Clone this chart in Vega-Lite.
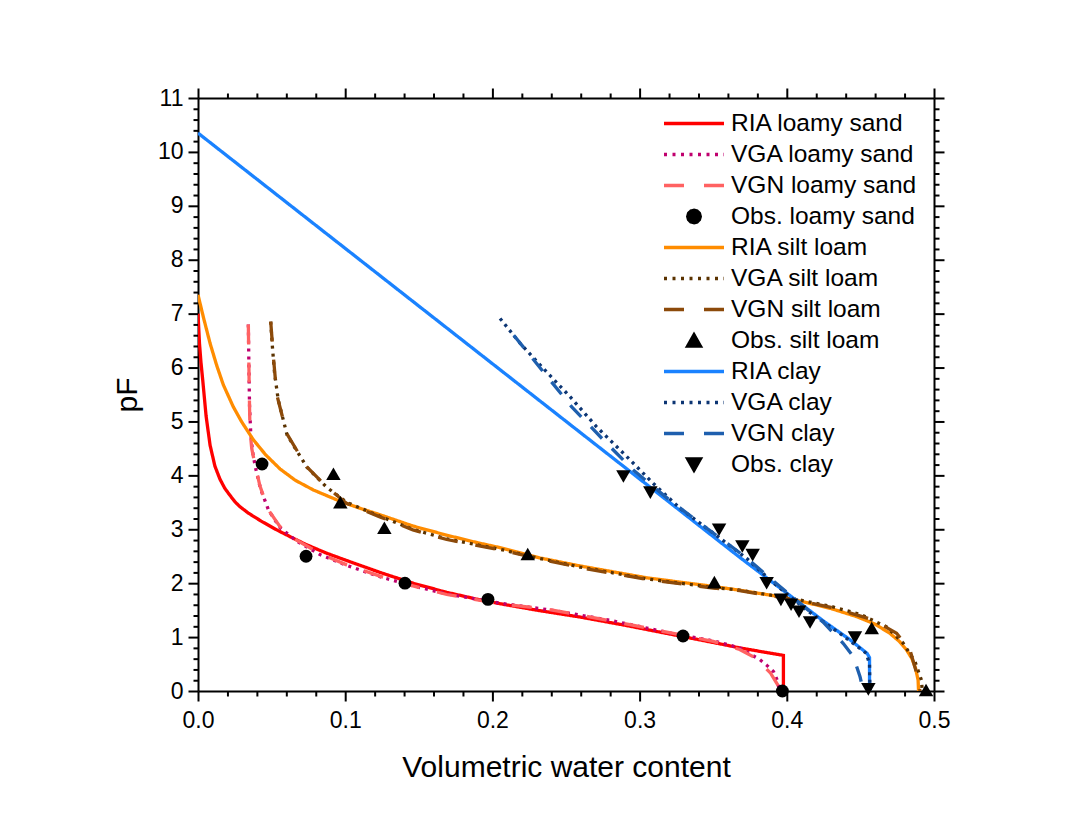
{
  "$schema": "https://vega.github.io/schema/vega-lite/v6.json",
  "width": 736,
  "height": 593,
  "autosize": "none",
  "padding": {"left": 198, "top": 98, "right": 134, "bottom": 129},
  "background": "white",
  "config": {
    "view": {"stroke": null},
    "font": "Liberation Sans",
    "axis": {
      "domainColor": "black", "domainWidth": 2, "tickColor": "black", "tickWidth": 2,
      "labelFont": "Liberation Sans", "labelFontSize": 23, "labelColor": "black",
      "titleFont": "Liberation Sans", "titleFontSize": 30, "titleFontWeight": "normal", "titleColor": "black",
      "grid": false, "labelOverlap": false, "labelFlush": false, "tickRound": false
    },
    "legend": {"labelFont": "Liberation Sans", "labelFontSize": 24.5, "labelColor": "black"}
  },
  "datasets": {
    "curves": [
      {"series": "RIA loamy sand", "wc": 0, "pF": 7.0},
      {"series": "RIA loamy sand", "wc": 0.001, "pF": 6.45},
      {"series": "RIA loamy sand", "wc": 0.002, "pF": 6.1},
      {"series": "RIA loamy sand", "wc": 0.0032, "pF": 5.77},
      {"series": "RIA loamy sand", "wc": 0.0055, "pF": 5.1},
      {"series": "RIA loamy sand", "wc": 0.0082, "pF": 4.56},
      {"series": "RIA loamy sand", "wc": 0.0115, "pF": 4.17},
      {"series": "RIA loamy sand", "wc": 0.0149, "pF": 3.93},
      {"series": "RIA loamy sand", "wc": 0.0182, "pF": 3.76},
      {"series": "RIA loamy sand", "wc": 0.0217, "pF": 3.63},
      {"series": "RIA loamy sand", "wc": 0.0248, "pF": 3.52},
      {"series": "RIA loamy sand", "wc": 0.028, "pF": 3.43},
      {"series": "RIA loamy sand", "wc": 0.0342, "pF": 3.3},
      {"series": "RIA loamy sand", "wc": 0.043, "pF": 3.15},
      {"series": "RIA loamy sand", "wc": 0.0534, "pF": 2.99},
      {"series": "RIA loamy sand", "wc": 0.0635, "pF": 2.85},
      {"series": "RIA loamy sand", "wc": 0.0732, "pF": 2.72},
      {"series": "RIA loamy sand", "wc": 0.087, "pF": 2.56},
      {"series": "RIA loamy sand", "wc": 0.101, "pF": 2.42},
      {"series": "RIA loamy sand", "wc": 0.1236, "pF": 2.2},
      {"series": "RIA loamy sand", "wc": 0.146, "pF": 2.0},
      {"series": "RIA loamy sand", "wc": 0.169, "pF": 1.83},
      {"series": "RIA loamy sand", "wc": 0.19, "pF": 1.7},
      {"series": "RIA loamy sand", "wc": 0.205, "pF": 1.62},
      {"series": "RIA loamy sand", "wc": 0.23, "pF": 1.5},
      {"series": "RIA loamy sand", "wc": 0.26, "pF": 1.37},
      {"series": "RIA loamy sand", "wc": 0.29, "pF": 1.22},
      {"series": "RIA loamy sand", "wc": 0.3274, "pF": 1.02},
      {"series": "RIA loamy sand", "wc": 0.35, "pF": 0.9},
      {"series": "RIA loamy sand", "wc": 0.368, "pF": 0.8},
      {"series": "RIA loamy sand", "wc": 0.3977, "pF": 0.66},
      {"series": "RIA loamy sand", "wc": 0.3977, "pF": 0},

      {"series": "VGA loamy sand", "wc": 0.0342, "pF": 6.8},
      {"series": "VGA loamy sand", "wc": 0.0346, "pF": 6.0},
      {"series": "VGA loamy sand", "wc": 0.035, "pF": 5.3},
      {"series": "VGA loamy sand", "wc": 0.0358, "pF": 4.8},
      {"series": "VGA loamy sand", "wc": 0.037, "pF": 4.45},
      {"series": "VGA loamy sand", "wc": 0.039, "pF": 4.15},
      {"series": "VGA loamy sand", "wc": 0.0425, "pF": 3.75},
      {"series": "VGA loamy sand", "wc": 0.048, "pF": 3.35},
      {"series": "VGA loamy sand", "wc": 0.0557, "pF": 3.03},
      {"series": "VGA loamy sand", "wc": 0.067, "pF": 2.78},
      {"series": "VGA loamy sand", "wc": 0.0829, "pF": 2.53},
      {"series": "VGA loamy sand", "wc": 0.101, "pF": 2.33},
      {"series": "VGA loamy sand", "wc": 0.1236, "pF": 2.12},
      {"series": "VGA loamy sand", "wc": 0.146, "pF": 1.95},
      {"series": "VGA loamy sand", "wc": 0.169, "pF": 1.8},
      {"series": "VGA loamy sand", "wc": 0.205, "pF": 1.63},
      {"series": "VGA loamy sand", "wc": 0.24, "pF": 1.5},
      {"series": "VGA loamy sand", "wc": 0.282, "pF": 1.3},
      {"series": "VGA loamy sand", "wc": 0.32, "pF": 1.08},
      {"series": "VGA loamy sand", "wc": 0.35, "pF": 0.93},
      {"series": "VGA loamy sand", "wc": 0.368, "pF": 0.8},
      {"series": "VGA loamy sand", "wc": 0.3818, "pF": 0.58},
      {"series": "VGA loamy sand", "wc": 0.3863, "pF": 0.48},
      {"series": "VGA loamy sand", "wc": 0.391, "pF": 0.36},
      {"series": "VGA loamy sand", "wc": 0.3935, "pF": 0.2},
      {"series": "VGA loamy sand", "wc": 0.395, "pF": 0},

      {"series": "VGN loamy sand", "wc": 0.0342, "pF": 6.8},
      {"series": "VGN loamy sand", "wc": 0.0345, "pF": 6.2},
      {"series": "VGN loamy sand", "wc": 0.0348, "pF": 5.6},
      {"series": "VGN loamy sand", "wc": 0.0353, "pF": 4.85},
      {"series": "VGN loamy sand", "wc": 0.0365, "pF": 4.5},
      {"series": "VGN loamy sand", "wc": 0.0387, "pF": 4.2},
      {"series": "VGN loamy sand", "wc": 0.0421, "pF": 3.8},
      {"series": "VGN loamy sand", "wc": 0.0478, "pF": 3.36},
      {"series": "VGN loamy sand", "wc": 0.0557, "pF": 3.05},
      {"series": "VGN loamy sand", "wc": 0.067, "pF": 2.8},
      {"series": "VGN loamy sand", "wc": 0.0829, "pF": 2.55},
      {"series": "VGN loamy sand", "wc": 0.101, "pF": 2.34},
      {"series": "VGN loamy sand", "wc": 0.1236, "pF": 2.13},
      {"series": "VGN loamy sand", "wc": 0.146, "pF": 1.95},
      {"series": "VGN loamy sand", "wc": 0.169, "pF": 1.79},
      {"series": "VGN loamy sand", "wc": 0.205, "pF": 1.62},
      {"series": "VGN loamy sand", "wc": 0.2369, "pF": 1.52},
      {"series": "VGN loamy sand", "wc": 0.265, "pF": 1.38},
      {"series": "VGN loamy sand", "wc": 0.2935, "pF": 1.23},
      {"series": "VGN loamy sand", "wc": 0.33, "pF": 1.03},
      {"series": "VGN loamy sand", "wc": 0.35, "pF": 0.92},
      {"series": "VGN loamy sand", "wc": 0.368, "pF": 0.77},
      {"series": "VGN loamy sand", "wc": 0.377, "pF": 0.64},
      {"series": "VGN loamy sand", "wc": 0.384, "pF": 0.47},
      {"series": "VGN loamy sand", "wc": 0.389, "pF": 0.33},
      {"series": "VGN loamy sand", "wc": 0.393, "pF": 0.15},
      {"series": "VGN loamy sand", "wc": 0.3965, "pF": 0},

      {"series": "RIA silt loam", "wc": 0, "pF": 7.35},
      {"series": "RIA silt loam", "wc": 0.0036, "pF": 6.94},
      {"series": "RIA silt loam", "wc": 0.0082, "pF": 6.45},
      {"series": "RIA silt loam", "wc": 0.0127, "pF": 6.04},
      {"series": "RIA silt loam", "wc": 0.0172, "pF": 5.68},
      {"series": "RIA silt loam", "wc": 0.024, "pF": 5.27},
      {"series": "RIA silt loam", "wc": 0.0295, "pF": 5.0},
      {"series": "RIA silt loam", "wc": 0.0376, "pF": 4.66},
      {"series": "RIA silt loam", "wc": 0.046, "pF": 4.38},
      {"series": "RIA silt loam", "wc": 0.0557, "pF": 4.12},
      {"series": "RIA silt loam", "wc": 0.066, "pF": 3.91},
      {"series": "RIA silt loam", "wc": 0.0783, "pF": 3.73},
      {"series": "RIA silt loam", "wc": 0.0965, "pF": 3.52},
      {"series": "RIA silt loam", "wc": 0.11, "pF": 3.39},
      {"series": "RIA silt loam", "wc": 0.1236, "pF": 3.27},
      {"series": "RIA silt loam", "wc": 0.146, "pF": 3.06},
      {"series": "RIA silt loam", "wc": 0.169, "pF": 2.89},
      {"series": "RIA silt loam", "wc": 0.19, "pF": 2.75},
      {"series": "RIA silt loam", "wc": 0.205, "pF": 2.66},
      {"series": "RIA silt loam", "wc": 0.232, "pF": 2.47},
      {"series": "RIA silt loam", "wc": 0.2595, "pF": 2.32},
      {"series": "RIA silt loam", "wc": 0.3048, "pF": 2.1},
      {"series": "RIA silt loam", "wc": 0.35, "pF": 1.94},
      {"series": "RIA silt loam", "wc": 0.368, "pF": 1.87},
      {"series": "RIA silt loam", "wc": 0.395, "pF": 1.75},
      {"series": "RIA silt loam", "wc": 0.4135, "pF": 1.64},
      {"series": "RIA silt loam", "wc": 0.43, "pF": 1.53},
      {"series": "RIA silt loam", "wc": 0.4475, "pF": 1.38},
      {"series": "RIA silt loam", "wc": 0.46, "pF": 1.24},
      {"series": "RIA silt loam", "wc": 0.47, "pF": 1.07},
      {"series": "RIA silt loam", "wc": 0.4765, "pF": 0.92},
      {"series": "RIA silt loam", "wc": 0.4814, "pF": 0.76},
      {"series": "RIA silt loam", "wc": 0.485, "pF": 0.6},
      {"series": "RIA silt loam", "wc": 0.4875, "pF": 0.42},
      {"series": "RIA silt loam", "wc": 0.4892, "pF": 0.2},
      {"series": "RIA silt loam", "wc": 0.4895, "pF": 0},

      {"series": "VGA silt loam", "wc": 0.0494, "pF": 6.85},
      {"series": "VGA silt loam", "wc": 0.0505, "pF": 6.4},
      {"series": "VGA silt loam", "wc": 0.052, "pF": 5.9},
      {"series": "VGA silt loam", "wc": 0.0545, "pF": 5.4},
      {"series": "VGA silt loam", "wc": 0.0605, "pF": 4.75},
      {"series": "VGA silt loam", "wc": 0.074, "pF": 4.15},
      {"series": "VGA silt loam", "wc": 0.0874, "pF": 3.78},
      {"series": "VGA silt loam", "wc": 0.101, "pF": 3.5},
      {"series": "VGA silt loam", "wc": 0.1236, "pF": 3.24},
      {"series": "VGA silt loam", "wc": 0.146, "pF": 3.0},
      {"series": "VGA silt loam", "wc": 0.169, "pF": 2.82},
      {"series": "VGA silt loam", "wc": 0.205, "pF": 2.63},
      {"series": "VGA silt loam", "wc": 0.232, "pF": 2.46},
      {"series": "VGA silt loam", "wc": 0.2595, "pF": 2.3},
      {"series": "VGA silt loam", "wc": 0.3048, "pF": 2.08},
      {"series": "VGA silt loam", "wc": 0.35, "pF": 1.92},
      {"series": "VGA silt loam", "wc": 0.368, "pF": 1.87},
      {"series": "VGA silt loam", "wc": 0.4067, "pF": 1.7},
      {"series": "VGA silt loam", "wc": 0.43, "pF": 1.57},
      {"series": "VGA silt loam", "wc": 0.45, "pF": 1.42},
      {"series": "VGA silt loam", "wc": 0.4678, "pF": 1.19},
      {"series": "VGA silt loam", "wc": 0.479, "pF": 0.89},
      {"series": "VGA silt loam", "wc": 0.487, "pF": 0.55},
      {"series": "VGA silt loam", "wc": 0.4915, "pF": 0.2},
      {"series": "VGA silt loam", "wc": 0.492, "pF": 0},

      {"series": "VGN silt loam", "wc": 0.0494, "pF": 6.85},
      {"series": "VGN silt loam", "wc": 0.0512, "pF": 6.2},
      {"series": "VGN silt loam", "wc": 0.0535, "pF": 5.5},
      {"series": "VGN silt loam", "wc": 0.0602, "pF": 4.78},
      {"series": "VGN silt loam", "wc": 0.0738, "pF": 4.16},
      {"series": "VGN silt loam", "wc": 0.0874, "pF": 3.79},
      {"series": "VGN silt loam", "wc": 0.101, "pF": 3.48},
      {"series": "VGN silt loam", "wc": 0.1236, "pF": 3.23},
      {"series": "VGN silt loam", "wc": 0.146, "pF": 2.99},
      {"series": "VGN silt loam", "wc": 0.169, "pF": 2.81},
      {"series": "VGN silt loam", "wc": 0.205, "pF": 2.62},
      {"series": "VGN silt loam", "wc": 0.232, "pF": 2.45},
      {"series": "VGN silt loam", "wc": 0.2595, "pF": 2.29},
      {"series": "VGN silt loam", "wc": 0.3048, "pF": 2.07},
      {"series": "VGN silt loam", "wc": 0.35, "pF": 1.91},
      {"series": "VGN silt loam", "wc": 0.368, "pF": 1.86},
      {"series": "VGN silt loam", "wc": 0.4067, "pF": 1.69},
      {"series": "VGN silt loam", "wc": 0.43, "pF": 1.55},
      {"series": "VGN silt loam", "wc": 0.4587, "pF": 1.32},
      {"series": "VGN silt loam", "wc": 0.4746, "pF": 1.07},
      {"series": "VGN silt loam", "wc": 0.4837, "pF": 0.76},
      {"series": "VGN silt loam", "wc": 0.4882, "pF": 0.33},
      {"series": "VGN silt loam", "wc": 0.4905, "pF": 0},

      {"series": "RIA clay", "wc": 0, "pF": 10.35},
      {"series": "RIA clay", "wc": 0.2052, "pF": 5.96},
      {"series": "RIA clay", "wc": 0.368, "pF": 2.48},
      {"series": "RIA clay", "wc": 0.4248, "pF": 1.3},
      {"series": "RIA clay", "wc": 0.443, "pF": 0.95},
      {"series": "RIA clay", "wc": 0.4545, "pF": 0.7},
      {"series": "RIA clay", "wc": 0.4562, "pF": 0.62},
      {"series": "RIA clay", "wc": 0.4562, "pF": 0},

      {"series": "VGA clay", "wc": 0.2052, "pF": 6.91},
      {"series": "VGA clay", "wc": 0.2188, "pF": 6.45},
      {"series": "VGA clay", "wc": 0.2323, "pF": 6.05},
      {"series": "VGA clay", "wc": 0.2527, "pF": 5.46},
      {"series": "VGA clay", "wc": 0.2708, "pF": 4.9},
      {"series": "VGA clay", "wc": 0.2912, "pF": 4.35},
      {"series": "VGA clay", "wc": 0.3093, "pF": 3.85},
      {"series": "VGA clay", "wc": 0.3274, "pF": 3.39},
      {"series": "VGA clay", "wc": 0.35, "pF": 2.93},
      {"series": "VGA clay", "wc": 0.3727, "pF": 2.46},
      {"series": "VGA clay", "wc": 0.3886, "pF": 2.06},
      {"series": "VGA clay", "wc": 0.4135, "pF": 1.5},
      {"series": "VGA clay", "wc": 0.436, "pF": 1.07},
      {"series": "VGA clay", "wc": 0.454, "pF": 0.7},
      {"series": "VGA clay", "wc": 0.4562, "pF": 0.5},
      {"series": "VGA clay", "wc": 0.4565, "pF": 0},

      {"series": "VGN clay", "wc": 0.2145, "pF": 6.6},
      {"series": "VGN clay", "wc": 0.2346, "pF": 5.92},
      {"series": "VGN clay", "wc": 0.2539, "pF": 5.27},
      {"series": "VGN clay", "wc": 0.2753, "pF": 4.66},
      {"series": "VGN clay", "wc": 0.2957, "pF": 4.1},
      {"series": "VGN clay", "wc": 0.32, "pF": 3.55},
      {"series": "VGN clay", "wc": 0.35, "pF": 2.93},
      {"series": "VGN clay", "wc": 0.3727, "pF": 2.47},
      {"series": "VGN clay", "wc": 0.39, "pF": 2.06},
      {"series": "VGN clay", "wc": 0.41, "pF": 1.6},
      {"series": "VGN clay", "wc": 0.425, "pF": 1.27},
      {"series": "VGN clay", "wc": 0.4384, "pF": 0.88},
      {"series": "VGN clay", "wc": 0.4452, "pF": 0.64},
      {"series": "VGN clay", "wc": 0.4497, "pF": 0.27},
      {"series": "VGN clay", "wc": 0.452, "pF": 0}
    ],
    "obs": [
      {"series": "Obs. loamy sand", "wc": 0.0435, "pF": 4.21},
      {"series": "Obs. loamy sand", "wc": 0.0734, "pF": 2.5},
      {"series": "Obs. loamy sand", "wc": 0.1406, "pF": 2.0},
      {"series": "Obs. loamy sand", "wc": 0.197, "pF": 1.7},
      {"series": "Obs. loamy sand", "wc": 0.3295, "pF": 1.02},
      {"series": "Obs. loamy sand", "wc": 0.397, "pF": 0},
      {"series": "Obs. silt loam", "wc": 0.092, "pF": 4.03},
      {"series": "Obs. silt loam", "wc": 0.0967, "pF": 3.5},
      {"series": "Obs. silt loam", "wc": 0.1266, "pF": 3.03},
      {"series": "Obs. silt loam", "wc": 0.224, "pF": 2.54},
      {"series": "Obs. silt loam", "wc": 0.3508, "pF": 2.02},
      {"series": "Obs. silt loam", "wc": 0.4577, "pF": 1.17},
      {"series": "Obs. silt loam", "wc": 0.4946, "pF": 0.02},
      {"series": "Obs. clay", "wc": 0.289, "pF": 3.98},
      {"series": "Obs. clay", "wc": 0.3073, "pF": 3.68},
      {"series": "Obs. clay", "wc": 0.354, "pF": 2.99},
      {"series": "Obs. clay", "wc": 0.3698, "pF": 2.68},
      {"series": "Obs. clay", "wc": 0.3768, "pF": 2.52},
      {"series": "Obs. clay", "wc": 0.3863, "pF": 2.0},
      {"series": "Obs. clay", "wc": 0.396, "pF": 1.69},
      {"series": "Obs. clay", "wc": 0.4029, "pF": 1.6},
      {"series": "Obs. clay", "wc": 0.4083, "pF": 1.47},
      {"series": "Obs. clay", "wc": 0.4158, "pF": 1.27},
      {"series": "Obs. clay", "wc": 0.4463, "pF": 0.99},
      {"series": "Obs. clay", "wc": 0.4554, "pF": 0.03}
    ]
  },
  "layer": [
    {
      "data": {"name": "curves"},
      "mark": {"type": "line", "strokeWidth": 3.3, "strokeCap": "butt", "clip": true},
      "encoding": {
        "x": {
          "field": "wc", "type": "quantitative",
          "scale": {"domain": [0, 0.5], "nice": false, "zero": false},
          "axis": {
            "orient": "bottom",
            "values": [0, 0.02, 0.04, 0.06, 0.08, 0.1, 0.12, 0.14, 0.16, 0.18, 0.2, 0.22, 0.24, 0.26, 0.28, 0.3, 0.32, 0.34, 0.36, 0.38, 0.4, 0.42, 0.44, 0.46, 0.48, 0.5],
            "labelExpr": "abs(datum.value*10-round(datum.value*10))<0.001 ? format(datum.value, '.1f') : ''",
            "tickSize": {"condition": {"test": "abs(datum.value*10-round(datum.value*10))<0.001", "value": 10}, "value": 5},
            "labelPadding": 8,
            "title": "Volumetric water content",
            "titlePadding": 20
          }
        },
        "y": {
          "field": "pF", "type": "quantitative",
          "scale": {"domain": [0, 11], "nice": false, "zero": false},
          "axis": {
            "orient": "left",
            "values": [0,0.2,0.4,0.6,0.8,1,1.2,1.4,1.6,1.8,2,2.2,2.4,2.6,2.8,3,3.2,3.4,3.6,3.8,4,4.2,4.4,4.6,4.8,5,5.2,5.4,5.6,5.8,6,6.2,6.4,6.6,6.8,7,7.2,7.4,7.6,7.8,8,8.2,8.4,8.6,8.8,9,9.2,9.4,9.6,9.8,10,10.2,10.4,10.6,10.8,11],
            "labelExpr": "abs(datum.value-round(datum.value))<0.001 ? format(datum.value, 'd') : ''",
            "tickSize": {"condition": {"test": "abs(datum.value-round(datum.value))<0.001", "value": 10}, "value": 5},
            "labelPadding": 5,
            "title": "pF",
            "titlePadding": 15
          }
        },
        "color": {
          "field": "series", "type": "nominal",
          "scale": {
            "domain": ["RIA loamy sand", "VGA loamy sand", "VGN loamy sand", "Obs. loamy sand", "RIA silt loam", "VGA silt loam", "VGN silt loam", "Obs. silt loam", "RIA clay", "VGA clay", "VGN clay", "Obs. clay"],
            "range": ["#ff0000", "#c0006e", "#ff6262", "#000000", "#ff8c00", "#5a3200", "#8c4a0a", "#000000", "#1a82ff", "#0c3573", "#1e5fae", "#000000"]
          },
          "legend": {
            "orient": "none", "legendX": 464, "legendY": 10, "title": null, "padding": 0,
            "symbolType": "stroke", "symbolSize": 3600, "symbolStrokeWidth": 3.3,
            "clipHeight": 31, "rowPadding": 0, "labelOffset": 5, "labelLimit": 400,
            "encode": {
              "symbols": {
                "update": {
                  "shape": {"signal": "datum.value === 'Obs. loamy sand' ? 'M0.21,0L0.182,0.105L0.105,0.182L0,0.21L-0.105,0.182L-0.182,0.105L-0.21,0L-0.182,-0.105L-0.105,-0.182L0,-0.21L0.105,-0.182L0.182,-0.105Z' : datum.value === 'Obs. silt loam' ? 'M0,-0.19L0.215,0.19L-0.215,0.19Z' : datum.value === 'Obs. clay' ? 'M0,0.19L0.215,-0.19L-0.215,-0.19Z' : 'M-1,0L1,0'"},
                  "fill": {"signal": "indexof(datum.value, 'Obs') === 0 ? 'black' : 'transparent'"},
                  "stroke": {"signal": "indexof(datum.value, 'Obs') === 0 ? 'transparent' : scale('color', datum.value)"},
                  "strokeDash": {"signal": "indexof(datum.value, 'VGA') === 0 ? [3, 5.5] : indexof(datum.value, 'VGN') === 0 ? [20, 20] : [1, 0]"}
                }
              }
            }
          }
        },
        "strokeDash": {
          "field": "series", "type": "nominal",
          "scale": {
            "domain": ["RIA loamy sand", "VGA loamy sand", "VGN loamy sand", "RIA silt loam", "VGA silt loam", "VGN silt loam", "RIA clay", "VGA clay", "VGN clay"],
            "range": [[1, 0], [3, 5], [20, 18], [1, 0], [3, 5], [20, 18], [1, 0], [3, 4.5], [16, 14]]
          },
          "legend": null
        },
        "order": {"field": "pF", "sort": "descending"}
      }
    },
    {
      "data": {"name": "obs"},
      "mark": {"type": "point", "filled": true, "opacity": 1, "clip": false},
      "encoding": {
        "x": {
          "field": "wc", "type": "quantitative",
          "axis": {
            "orient": "top", "title": null, "labels": false,
            "values": [0, 0.02, 0.04, 0.06, 0.08, 0.1, 0.12, 0.14, 0.16, 0.18, 0.2, 0.22, 0.24, 0.26, 0.28, 0.3, 0.32, 0.34, 0.36, 0.38, 0.4, 0.42, 0.44, 0.46, 0.48, 0.5],
            "tickSize": {"condition": {"test": "abs(datum.value*10-round(datum.value*10))<0.001", "value": 10}, "value": 5}
          }
        },
        "y": {
          "field": "pF", "type": "quantitative",
          "axis": {
            "orient": "right", "title": null, "labels": false,
            "values": [0,0.2,0.4,0.6,0.8,1,1.2,1.4,1.6,1.8,2,2.2,2.4,2.6,2.8,3,3.2,3.4,3.6,3.8,4,4.2,4.4,4.6,4.8,5,5.2,5.4,5.6,5.8,6,6.2,6.4,6.6,6.8,7,7.2,7.4,7.6,7.8,8,8.2,8.4,8.6,8.8,9,9.2,9.4,9.6,9.8,10,10.2,10.4,10.6,10.8,11],
            "tickSize": {"condition": {"test": "abs(datum.value-round(datum.value))<0.001", "value": 10}, "value": 5}
          }
        },
        "color": {"field": "series", "type": "nominal", "legend": null},
        "shape": {
          "field": "series", "type": "nominal",
          "scale": {"domain": ["Obs. loamy sand", "Obs. silt loam", "Obs. clay"], "range": ["circle", "triangle-up", "triangle-down"]},
          "legend": null
        },
        "size": {"condition": {"test": "datum.series === 'Obs. loamy sand'", "value": 165}, "value": 210}
      }
    }
  ],
  "resolve": {"axis": {"x": "independent", "y": "independent"}}
}
